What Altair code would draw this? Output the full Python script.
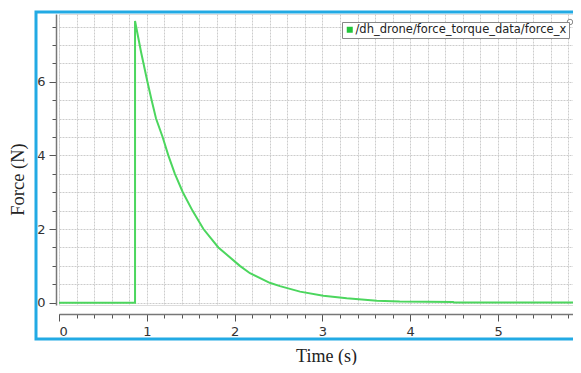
import altair as alt
import pandas as pd

# Data
time_s = [0.0, 0.866, 0.866, 0.935, 1.007, 1.055, 1.105, 1.18, 1.245, 1.32,
          1.41, 1.52, 1.645, 1.815, 2.06, 2.175, 2.40, 2.517, 2.745, 3.01,
          3.277, 3.62, 3.88, 4.49, 4.50, 6.10]
force_n = [0.0, 0.0, 7.65, 6.8, 6.0, 5.5, 5.0, 4.5, 4.0, 3.5,
           3.0, 2.5, 2.0, 1.5, 1.0, 0.80, 0.54, 0.45, 0.30, 0.19,
           0.12, 0.055, 0.03, 0.02, 0.005, 0.005]
series_name = "/dh_drone/force_torque_data/force_x"

x_major = [0, 1, 2, 3, 4, 5]
x_minor = [round(i * 0.2, 1) for i in range(0, 30)]
y_major = [0, 2, 4, 6]
y_minor = [round(i * 0.5, 1) for i in range(0, 16)]

df = pd.DataFrame({"t": time_s, "f": force_n, "idx": list(range(len(time_s))),
                   "series": [series_name] * len(time_s)})

GREEN = "#4cd65e"
FRAME = "#22aae4"
xs = alt.Scale(domain=[0, 5.854], nice=False, zero=False)
ys = alt.Scale(domain=[-0.063, 7.84], nice=False, zero=False)

base = alt.Chart(df)

frame = alt.Chart(alt.Data(values=[{}])).mark_rect(
    fill=None, stroke=FRAME, strokeWidth=3
).encode(x=alt.value(-23), x2=alt.value(560), y=alt.value(-2), y2=alt.value(325))

grid = base.mark_line(opacity=0).encode(
    x=alt.X("t:Q", scale=xs, axis=alt.Axis(orient="bottom", values=x_minor, grid=True,
            ticks=False, labels=False, domain=False, title=None,
            gridColor="#cccccc", gridDash=[2, 1], gridWidth=1)),
    y=alt.Y("f:Q", scale=ys, axis=alt.Axis(orient="left", values=y_minor, grid=True,
            ticks=False, labels=False, domain=False, title=None,
            gridColor="#cccccc", gridDash=[2, 1], gridWidth=1)),
)

minor = base.mark_line(opacity=0).encode(
    x=alt.X("t:Q", scale=xs, axis=alt.Axis(orient="bottom", values=x_minor, grid=False,
            ticks=True, tickSize=4, tickColor="#555555", labels=False, domain=False,
            title=None, offset=9)),
    y=alt.Y("f:Q", scale=ys, axis=alt.Axis(orient="left", values=y_minor, grid=False,
            ticks=True, tickSize=4, tickColor="#555555", labels=False, domain=False,
            title=None, offset=3)),
)

line = base.mark_line(strokeWidth=2).encode(
    x=alt.X("t:Q", scale=xs, axis=alt.Axis(orient="bottom", values=x_major, grid=False,
            tickSize=7, tickColor="#555555", domainColor="#777777", domainWidth=1.5,
            labelFont="DejaVu Sans", labelFontSize=13, labelColor="#333333",
            labelPadding=4, offset=9, title="Time (s)", titleFont="Liberation Serif",
            titleFontSize=18, titleFontWeight="normal", titleColor="#222222",
            titleX=267, titleY=47, titleBaseline="alphabetic")),
    y=alt.Y("f:Q", scale=ys, axis=alt.Axis(orient="left", values=y_major, grid=False,
            tickSize=7, tickColor="#555555", domainColor="#777777", domainWidth=1.5,
            labelFont="DejaVu Sans", labelFontSize=13, labelColor="#333333",
            labelPadding=4, offset=3, title="Force (N)", titleFont="Liberation Serif",
            titleFontSize=18.5, titleFontWeight="normal", titleColor="#222222",
            titleX=-33, titleY=165, titleBaseline="alphabetic", titleAlign="center")),
    color=alt.Color("series:N", scale=alt.Scale(range=[GREEN]), legend=alt.Legend(
        orient="none", legendX=283, legendY=8, title=None, symbolType="square",
        symbolSize=36, symbolStrokeWidth=0, symbolFillColor="#22c43a",
        symbolStrokeColor="#22c43a",
        strokeColor="#888888", fillColor="white", padding=2, labelOffset=0,
        labelFont="DejaVu Sans", labelFontSize=11.5, labelColor="#222222",
        labelLimit=400)),
    order=alt.Order("idx:Q"),
)

handle = alt.Chart(alt.Data(values=[{}])).mark_point(
    shape="circle", size=30, filled=True, fill="white", stroke="#888888", strokeWidth=1, opacity=1
).encode(x=alt.value(511), y=alt.value(8))

chart = alt.layer(frame, grid, minor, line, handle).resolve_axis(
    x="independent", y="independent"
).properties(
    width=514, height=291,
    autosize=alt.AutoSizeParams(type="none"),
    padding={"left": 51, "top": 6, "right": 0, "bottom": 60},
).configure_view(stroke=None).configure(background="white")

chart.save("out.html", embed_options={"renderer": "svg", "actions": False})
